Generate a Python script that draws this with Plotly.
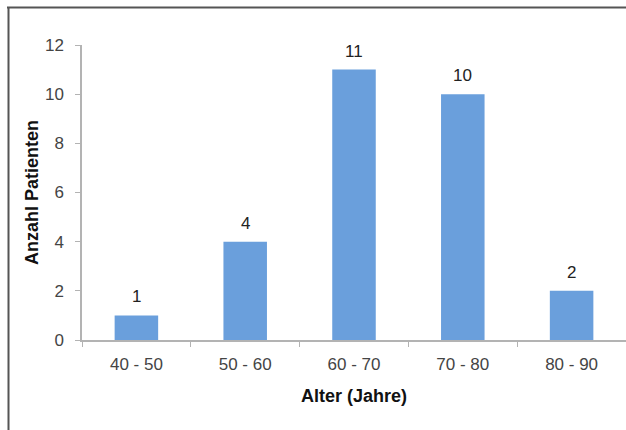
import plotly.graph_objects as go

categories = ["40 - 50", "50 - 60", "60 - 70", "70 - 80", "80 - 90"]
patients = [1, 4, 11, 10, 2]
y_ticks = [0, 2, 4, 6, 8, 10, 12]

L, T, PW, PH = 82, 45, 545, 295
W, H = 626, 430

fig = go.Figure()
fig.add_trace(go.Bar(
    x=categories, y=patients,
    marker=dict(color="#6a9fdc", line=dict(width=0)),
    showlegend=False,
))
for c, v in zip(categories, patients):
    fig.add_annotation(x=c, y=v, text=str(v), showarrow=False, yanchor="bottom", yshift=7,
                       font=dict(family="Liberation Sans, Arial", size=17, color="#222"))

fig.update_layout(
    width=W, height=H,
    margin=dict(l=L, r=0, t=T, b=H - T - PH),
    paper_bgcolor="white", plot_bgcolor="white",
    bargap=0.6, showlegend=False,
    font=dict(family="Liberation Sans, Arial", color="#444"),
    xaxis=dict(
        range=[-0.5, 4.5], showline=True, linecolor="#b3b3b3", linewidth=1.5,
        ticks="outside", tickson="boundaries", ticklen=5, tickcolor="#b3b3b3",
        ticklabelstandoff=8,
        tickfont=dict(size=17, color="#444"),
        title=dict(text="<b>Alter (Jahre)</b>", font=dict(size=18, color="#111"), standoff=16),
        showgrid=False,
    ),
    yaxis=dict(
        range=[0, 12], tickvals=y_ticks, showline=True, linecolor="#b3b3b3", linewidth=1.5,
        ticks="outside", ticklen=5, tickcolor="#b3b3b3",
        ticklabelstandoff=8,
        tickfont=dict(size=17, color="#444"),
        title=dict(text="<b>Anzahl Patienten</b>", font=dict(size=18, color="#111"), standoff=2),
        showgrid=False, zeroline=False,
    ),
    shapes=[
        dict(type="line", xref="paper", yref="paper",
             x0=(7 - L) / (W - L), x1=(W - L) / (W - L), y0=1 + (T - 7.5) / PH, y1=1 + (T - 7.5) / PH,
             line=dict(color="#555", width=2)),
        dict(type="line", xref="paper", yref="paper",
             x0=(8.5 - L) / (W - L), x1=(8.5 - L) / (W - L), y0=1 + (T - 7) / PH, y1=-(H - T - PH) / PH,
             line=dict(color="#555", width=2)),
    ],
)

fig.write_html(
    "out.html",
    config={"displayModeBar": False},
    post_script="document.documentElement.style.margin='0';document.body.style.margin='0';"
                "document.body.style.overflow='hidden';",
)
